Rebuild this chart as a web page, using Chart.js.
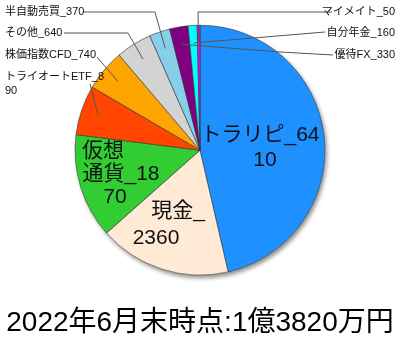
<!DOCTYPE html>
<html>
<head>
<meta charset="utf-8">
<script src="https://cdn.jsdelivr.net/npm/chart.js@4"></script>
<style>
  body { margin: 0; background: #fff; }
</style>
</head>
<body>
<canvas id="assetChart" width="400" height="350"></canvas>
<script>
const categories = ["トラリピ", "現金", "仮想通貨", "トライオートETF", "株価指数CFD", "その他", "半自動売買", "優待FX", "自分年金", "マイメイト"];
const amounts = [6410, 2360, 1870, 890, 740, 640, 370, 330, 160, 50];
const sliceColors = ["#1e90ff", "#ffead6", "#32cd32", "#ff4500", "#ffa500", "#d3d3d3", "#87ceeb", "#800080", "#00ffff", "#ff00ff"];
const titleText = "2022年6月末時点:1億3820万円";

const FONT = "'Liberation Sans', 'Noto Sans CJK JP', sans-serif";

// where each label goes (inside = big text in the slice, else small text + leader line)
const labelLayout = [
    { inside: true, breaks: [7], pos: [[260, 135], [265, 160]] },
    { inside: true, breaks: [3], pos: [[178, 211], [156, 238]] },
    { inside: true, breaks: [2, 7], pos: [[103, 151], [121, 174], [115, 197]] },
    { breaks: [11], x: 5, y: 77, align: "left", path: [[90, 84]] },
    { x: 5, y: 55, align: "left", path: [[97, 57]] },
    { x: 5, y: 33, align: "left", path: [[64, 33], [128, 33]] },
    { x: 5, y: 12, align: "left", path: [[84, 12], [155, 12]] },
    { x: 395, y: 55, align: "right", path: [[333, 55], [280, 52]] },
    { x: 395, y: 33, align: "right", path: [[325, 32]] },
    { x: 395, y: 12, align: "right", path: [[332, 12], [198, 12]] }
];

function splitLabel(text, breaks) {
    if (!breaks) return [text];
    const parts = [];
    let last = 0;
    breaks.forEach(b => { parts.push(text.slice(last, b)); last = b; });
    parts.push(text.slice(last));
    return parts;
}

const sliceLabels = {
    id: "sliceLabels",
    beforeDatasetsDraw(chart) {
        const arc = chart.getDatasetMeta(0).data[0];
        if (!arc) return;
        const ctx = chart.ctx;
        ctx.save();
        ctx.shadowColor = "rgba(0,0,0,0.45)";
        ctx.shadowOffsetX = 2;
        ctx.shadowOffsetY = 3;
        ctx.shadowBlur = 4;
        ctx.fillStyle = "#fff";
        ctx.beginPath();
        ctx.arc(arc.x, arc.y, arc.outerRadius, 0, Math.PI * 2);
        ctx.fill();
        ctx.restore();
    },
    afterDatasetsDraw(chart) {
        const ctx = chart.ctx;
        const meta = chart.getDatasetMeta(0);
        ctx.save();
        ctx.textBaseline = "middle";
        ctx.fillStyle = "#111";
        meta.data.forEach((arc, i) => {
            const p = arc.getProps(["x", "y", "startAngle", "endAngle", "outerRadius"], true);
            const lay = labelLayout[i];
            const lines = splitLabel(categories[i] + "_" + amounts[i], lay.breaks);
            if (lay.inside) {
                ctx.font = "21px " + FONT;
                ctx.textAlign = "center";
                lines.forEach((t, k) => ctx.fillText(t, lay.pos[k][0], lay.pos[k][1]));
                return;
            }
            ctx.font = "11px " + FONT;
            ctx.textAlign = lay.align;
            lines.forEach((t, k) => ctx.fillText(t, lay.x, lay.y + k * 14));
            const mid = (p.startAngle + p.endAngle) / 2;
            const ax = p.x + Math.cos(mid) * p.outerRadius * 0.86;
            const ay = p.y + Math.sin(mid) * p.outerRadius * 0.86;
            ctx.strokeStyle = "#555";
            ctx.lineWidth = 1;
            ctx.beginPath();
            ctx.moveTo(lay.path[0][0], lay.path[0][1]);
            lay.path.slice(1).forEach(pt => ctx.lineTo(pt[0], pt[1]));
            ctx.lineTo(ax, ay);
            ctx.stroke();
        });
        ctx.restore();
    }
};

new Chart(document.getElementById("assetChart"), {
    type: "pie",
    data: {
        labels: categories,
        datasets: [{
            data: amounts,
            backgroundColor: sliceColors,
            borderColor: "#333",
            borderWidth: 0.6
        }]
    },
    options: {
        responsive: false,
        animation: false,
        layout: { padding: { top: 25, left: 0, right: 0, bottom: 0 } },
        plugins: {
            legend: { display: false },
            tooltip: { enabled: false },
            title: {
                display: true,
                position: "bottom",
                text: titleText,
                color: "#000",
                font: { size: 28, family: FONT, weight: "normal" },
                padding: { top: 31, bottom: 10 }
            }
        }
    },
    plugins: [sliceLabels]
});
</script>
</body>
</html>
